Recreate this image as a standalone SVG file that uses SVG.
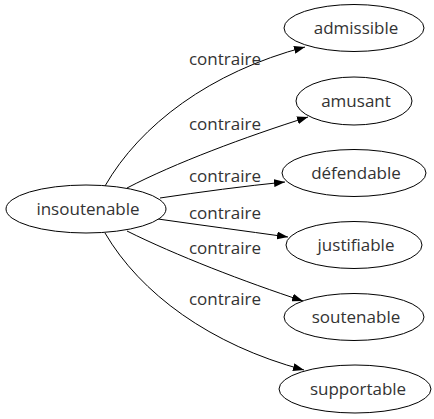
<svg xmlns="http://www.w3.org/2000/svg" width="434" height="419" viewBox="0 0 434 419">
<defs>
<style>
text{font-family:"Open Sans","DejaVu Sans",sans-serif;font-size:17px;fill:#333;text-anchor:middle}
ellipse{fill:#fff;stroke:#000;stroke-width:1}
.e path{fill:none;stroke:#000;stroke-width:1;marker-end:url(#ah)}
</style>
<marker id="ah" markerWidth="11" markerHeight="8" refX="11" refY="4" orient="auto" markerUnits="userSpaceOnUse"><path d="M0,0 L11,4 L0,8 z" fill="#000" stroke="none"/></marker>
</defs>
<rect width="434" height="419" fill="#fff"/>
<g class="e" id="edges">
<path d="M105,186 C140,125 210,72 305,47"/>
<path d="M127,188 C175,163 245,137 308,117"/>
<path d="M160,198 C200,192 245,186 285,182"/>
<path d="M158,219 C200,225 245,231 288,237"/>
<path d="M127,231 C175,255 245,282 303,301"/>
<path d="M105,233 C140,293 210,345 304,370"/>
</g>
<g id="edge-labels">
<text x="225" y="65">contraire</text>
<text x="225" y="130">contraire</text>
<text x="225" y="182">contraire</text>
<text x="225" y="219">contraire</text>
<text x="225" y="254">contraire</text>
<text x="225" y="305">contraire</text>
</g>
<g id="insoutenable"><ellipse cx="86" cy="209" rx="80" ry="24"/><text x="88" y="215">insoutenable</text></g>
<g id="admissible"><ellipse cx="354" cy="28" rx="70" ry="23.5"/><text x="356" y="34">admissible</text></g>
<g id="amusant"><ellipse cx="354" cy="101" rx="58" ry="24"/><text x="356" y="107">amusant</text></g>
<g id="defendable"><ellipse cx="354" cy="173" rx="72" ry="23.5"/><text x="356" y="179">défendable</text></g>
<g id="justifiable"><ellipse cx="354" cy="245" rx="68" ry="23.5"/><text x="356" y="251">justifiable</text></g>
<g id="soutenable"><ellipse cx="354" cy="317" rx="70" ry="23.5"/><text x="356" y="323">soutenable</text></g>
<g id="supportable"><ellipse cx="355" cy="389" rx="76" ry="24"/><text x="358" y="395">supportable</text></g>
</svg>
